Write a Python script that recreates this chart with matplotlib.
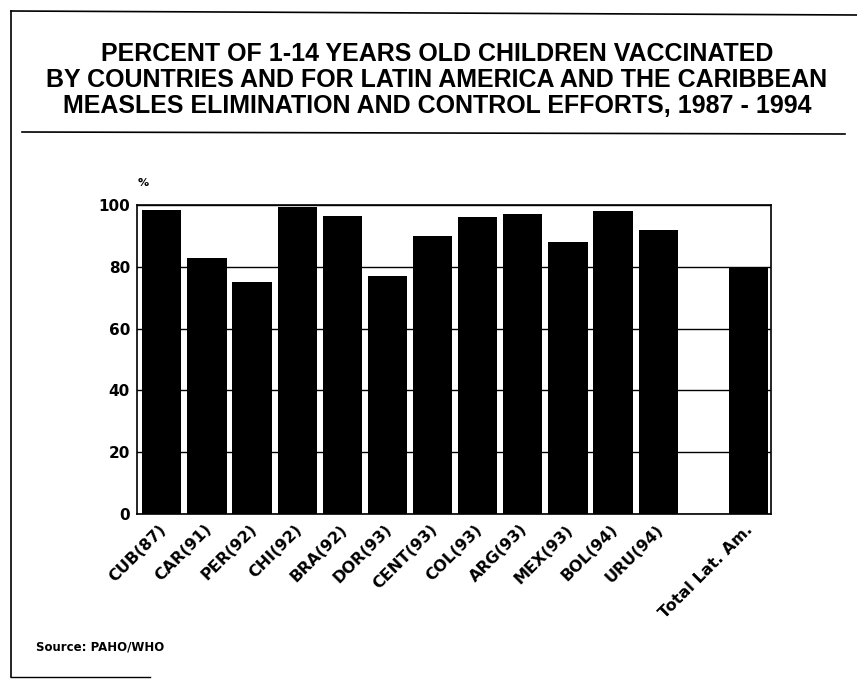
import matplotlib
matplotlib.use("Agg")
import matplotlib.pyplot as plt
import matplotlib.transforms as mtransforms
from matplotlib.lines import Line2D

# Measles vaccination coverage, children aged 1-14 (survey year in brackets)
countries = ["CUB(87)", "CAR(91)", "PER(92)", "CHI(92)", "BRA(92)", "DOR(93)",
             "CENT(93)", "COL(93)", "ARG(93)", "MEX(93)", "BOL(94)", "URU(94)"]
country_pct = [98.3, 83, 75, 99.2, 96.3, 77, 90, 96, 97, 88, 98, 92]
total_label = "Total Lat. Am."
total_pct = 79.5

y_ticks = [0, 20, 40, 60, 80, 100]
title_lines = ["PERCENT OF 1-14 YEARS OLD CHILDREN VACCINATED",
               "BY COUNTRIES AND FOR LATIN AMERICA AND THE CARIBBEAN",
               "MEASLES ELIMINATION AND CONTROL EFFORTS, 1987 - 1994"]
source_text = "Source: PAHO/WHO"

W, H = 857, 679
fig = plt.figure(figsize=(W / 100, H / 100), dpi=100)
fig.patch.set_facecolor("white")

# Page frame: left and top edges, short bottom stub
fig.add_artist(Line2D([11 / W, 11 / W], [1 - 11 / H, 1 - 677 / H], color="black", lw=1.2))
fig.add_artist(Line2D([11 / W, 1.0], [1 - 11 / H, 1 - 15 / H], color="black", lw=1.2))
fig.add_artist(Line2D([11 / W, 150 / W], [1 - 677 / H, 1 - 677 / H], color="black", lw=1.0))

# Title block, sized so the widest line spans about 785 px
title_font = dict(family=["Liberation Sans", "DejaVu Sans"], weight="bold",
                  color="black", ha="center", va="center")
title_texts = [fig.text(437 / W, 1 - (54 + 26 * i) / H, line, fontsize=17, **title_font)
               for i, line in enumerate(title_lines)]
renderer = fig.canvas.get_renderer()
widest = max(t.get_window_extent(renderer).width for t in title_texts)
size = 17 * 785 / widest
for t in title_texts:
    t.set_fontsize(size)
fig.add_artist(Line2D([22 / W, 845 / W], [1 - 132 / H, 1 - 134 / H], color="black", lw=1.2))

# Bar chart
left, right, top, bottom = 137, 771, 205, 514
ax = fig.add_axes([left / W, 1 - bottom / H, (right - left) / W, (bottom - top) / H])

labels = countries + ["", total_label]
values = country_pct + [0, total_pct]
positions = list(range(len(labels)))
bar_pos = [p for p, l in zip(positions, labels) if l]
bar_val = [v for v, l in zip(values, labels) if l]
bar_lab = [l for l in labels if l]

ax.set_axisbelow(True)
ax.yaxis.grid(True, color="black", lw=1.0)
ax.bar(bar_pos, bar_val, width=0.87, color="black", edgecolor="none", zorder=3)

ax.set_xlim(-0.55, 13.5)
ax.set_ylim(0, 100)
ax.set_yticks(y_ticks)
ax.set_yticklabels([str(t) for t in y_ticks], fontsize=11, fontweight="bold",
                   family="DejaVu Sans")
ax.tick_params(axis="y", length=0, pad=5)
ax.tick_params(axis="x", length=0, pad=2)

ax.set_xticks(bar_pos)
ax.set_xticklabels(bar_lab, rotation=45, ha="right", va="top", rotation_mode="anchor",
                   fontsize=11.5, fontweight="bold", family="DejaVu Sans")
shift = mtransforms.ScaledTranslation(-3 / 100, -5 / 100, fig.dpi_scale_trans)
for t in ax.get_xticklabels():
    t.set_transform(t.get_transform() + shift)

for s in ax.spines.values():
    s.set_color("black")
    s.set_linewidth(1.2)

fig.text(143 / W, 1 - 183 / H, "%", fontsize=8, fontweight="bold",
         family="DejaVu Sans", ha="center", va="center")
fig.text(36 / W, 1 - 647 / H, source_text, fontsize=8.5, fontweight="bold",
         family="DejaVu Sans", ha="left", va="center")

fig.savefig("out.png", dpi=100, facecolor="white")
